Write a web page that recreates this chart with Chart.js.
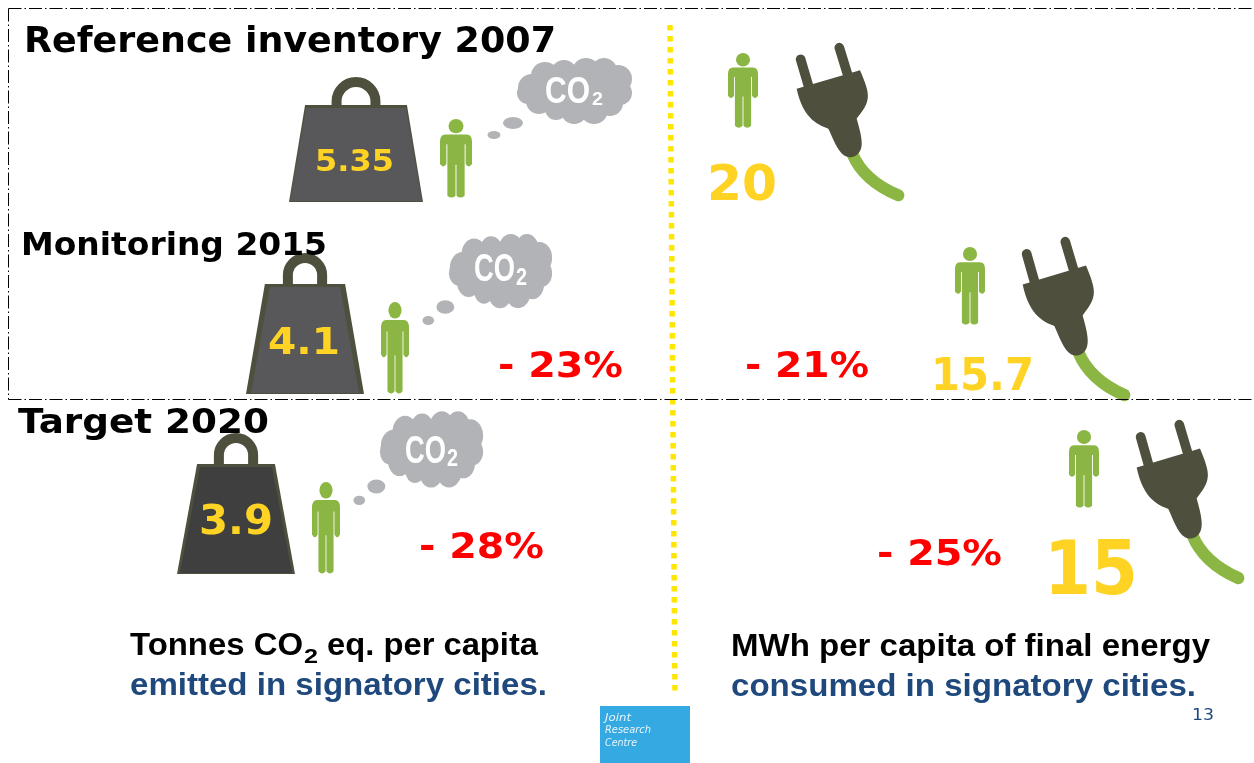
<!DOCTYPE html>
<html>
<head>
<meta charset="utf-8">
<title>Covenant of Mayors per capita figures</title>
<script src="https://cdn.jsdelivr.net/npm/chart.js@4/dist/chart.umd.min.js"></script>
<style>
html, body { margin: 0; padding: 0; background: #fff; overflow: hidden; }
canvas { display: block; }
</style>
</head>
<body>
<canvas id="chart" width="1254" height="763"></canvas>
<script>
// values
const periods = ['Reference inventory 2007', 'Monitoring 2015', 'Target 2020'];
const co2PerCapita = [5.35, 4.1, 3.9];
const energyPerCapita = [20, 15.7, 15];
const co2Change = [null, -23, -28];
const energyChange = [null, -21, -25];

const co2Caption = ['Tonnes CO', '2', ' eq. per capita', 'emitted in signatory cities.'];
const energyCaption = ['MWh per capita of final energy', 'consumed in signatory cities.'];
const logoLines = ['Joint', 'Research', 'Centre'];
const pageNumber = '13';

const YELLOW = '#ffd324';
const GREEN = '#8cb644';
const OLIVE = '#4e503d';
const GREY = '#b1b3b6';
const RED = '#ff0000';
const NAVY = '#1f497d';
const BOLD = '"DejaVu Sans", sans-serif';
const ARIAL = '"Liberation Sans", sans-serif';

// slide layout, boxes are left, top, width, height in slide pixels
const weightBoxes = [[289, 77, 134, 125], [246, 253, 118, 141], [177, 433, 118, 141]];
const weightFill = ['#58585a', '#58585a', '#3f3f3f'];
const weightInset = [0.12, 0.16, 0.17];
const weightEdge = [1, 5, 3];
const co2PersonBoxes = [[440, 119, 32, 79], [381, 302, 28, 92], [312, 482, 28, 92]];
const energyPersonBoxes = [[728, 53, 30, 75], [955, 247, 30, 78], [1069, 430, 30, 78]];
const cloudBoxes = [[487, 57, 146, 82], [422, 233, 131, 92], [353, 410, 131, 95]];
const plugBoxes = [[795, 42, 110, 160], [1021, 236, 110, 166], [1135, 419, 110, 166]];
const logoBox = [600, 706, 90, 57];

function sprite(w, h, draw) {
  const c = document.createElement('canvas');
  c.width = Math.round(w);
  c.height = Math.round(h);
  draw(c.getContext('2d'), c.width, c.height);
  return c;
}

function weightSprite(box, i) {
  return sprite(box[2], box[3], (ctx, w, h) => {
    const top = Math.round(h * 0.22);
    const inset = w * weightInset[i];
    const edge = weightEdge[i];
    const r = w * 0.145;
    ctx.strokeStyle = OLIVE;
    ctx.lineWidth = 10;
    ctx.beginPath();
    ctx.moveTo(w / 2 - r, top + 2);
    ctx.lineTo(w / 2 - r, 5 + r);
    ctx.arc(w / 2, 5 + r, r, Math.PI, 0);
    ctx.lineTo(w / 2 + r, top + 2);
    ctx.stroke();
    ctx.fillStyle = OLIVE;
    ctx.beginPath();
    ctx.moveTo(inset, top);
    ctx.lineTo(w - inset, top);
    ctx.lineTo(w, h);
    ctx.lineTo(0, h);
    ctx.closePath();
    ctx.fill();
    ctx.fillStyle = weightFill[i];
    ctx.beginPath();
    ctx.moveTo(inset + edge, top + 3);
    ctx.lineTo(w - inset - edge, top + 3);
    ctx.lineTo(w - edge, h - 1);
    ctx.lineTo(edge, h - 1);
    ctx.closePath();
    ctx.fill();
  });
}

function personSprite(box) {
  return sprite(box[2], box[3], (ctx, w, h) => {
    ctx.scale(w, h);
    ctx.fillStyle = GREEN;
    ctx.beginPath();
    ctx.ellipse(0.5, 0.09, 0.235, 0.09, 0, 0, Math.PI * 2);
    ctx.fill();
    ctx.beginPath();
    ctx.moveTo(0.16, 0.195);
    ctx.lineTo(0.84, 0.195);
    ctx.quadraticCurveTo(1, 0.2, 1, 0.28);
    ctx.lineTo(1, 0.57);
    ctx.quadraticCurveTo(0.9, 0.63, 0.8, 0.57);
    ctx.lineTo(0.8, 0.32);
    ctx.lineTo(0.77, 0.32);
    ctx.lineTo(0.77, 0.97);
    ctx.quadraticCurveTo(0.64, 1.02, 0.515, 0.97);
    ctx.lineTo(0.515, 0.58);
    ctx.lineTo(0.485, 0.58);
    ctx.lineTo(0.485, 0.97);
    ctx.quadraticCurveTo(0.36, 1.02, 0.23, 0.97);
    ctx.lineTo(0.23, 0.32);
    ctx.lineTo(0.2, 0.32);
    ctx.lineTo(0.2, 0.57);
    ctx.quadraticCurveTo(0.1, 0.63, 0, 0.57);
    ctx.lineTo(0, 0.28);
    ctx.quadraticCurveTo(0, 0.2, 0.16, 0.195);
    ctx.closePath();
    ctx.fill();
  });
}

function cloudSprite(box) {
  return sprite(box[2], box[3], (ctx, w, h) => {
    ctx.scale(w / 146, h / 82);
    ctx.fillStyle = GREY;
    const lobes = [[45, 31, 14], [58, 19, 14], [77, 16, 13], [99, 15, 14], [117, 14, 13], [131, 22, 14],
      [133, 36, 12], [123, 46, 13], [107, 53, 14], [87, 54, 13], [69, 52, 11], [52, 44, 13], [41, 36, 11]];
    ctx.beginPath();
    lobes.forEach((l, i) => (i ? ctx.lineTo(l[0], l[1]) : ctx.moveTo(l[0], l[1])));
    ctx.closePath();
    ctx.fill();
    lobes.forEach(l => {
      ctx.beginPath();
      ctx.arc(l[0], l[1], l[2], 0, Math.PI * 2);
      ctx.fill();
    });
    ctx.beginPath();
    ctx.ellipse(26, 66, 10, 6, 0, 0, Math.PI * 2);
    ctx.fill();
    ctx.beginPath();
    ctx.ellipse(7, 78, 6.5, 4, 0, 0, Math.PI * 2);
    ctx.fill();
  });
}

function plugSprite(box) {
  return sprite(box[2], box[3], (ctx, w, h) => {
    // drawn in the 3x units of the zoomed plug
    ctx.scale(w / 330, h / 480);
    ctx.lineCap = 'round';
    ctx.strokeStyle = GREEN;
    ctx.lineWidth = 36;
    ctx.beginPath();
    ctx.moveTo(172, 335);
    ctx.quadraticCurveTo(205, 415, 310, 460);
    ctx.stroke();
    ctx.strokeStyle = OLIVE;
    ctx.lineWidth = 29;
    ctx.beginPath();
    ctx.moveTo(17, 52);
    ctx.lineTo(40, 130);
    ctx.moveTo(133, 17);
    ctx.lineTo(157, 95);
    ctx.stroke();
    ctx.fillStyle = OLIVE;
    ctx.beginPath();
    ctx.moveTo(5, 140);
    ctx.lineTo(195, 85);
    ctx.bezierCurveTo(210, 120, 222, 150, 218, 170);
    ctx.bezierCurveTo(215, 195, 195, 215, 185, 230);
    ctx.bezierCurveTo(195, 265, 205, 300, 198, 320);
    ctx.bezierCurveTo(190, 345, 165, 350, 150, 342);
    ctx.bezierCurveTo(125, 325, 115, 290, 100, 260);
    ctx.bezierCurveTo(75, 250, 25, 235, 5, 140);
    ctx.closePath();
    ctx.fill();
  });
}

function logoSprite(box) {
  return sprite(box[2], box[3], (ctx, w, h) => {
    ctx.fillStyle = '#35a9e1';
    ctx.fillRect(0, 0, w, h);
  });
}

function boxCentre(box) {
  return { x: box[0] + box[2] / 2, y: box[1] + box[3] / 2 };
}

function iconDataset(label, boxes, images) {
  return {
    label: label,
    data: boxes.map(boxCentre),
    pointStyle: images,
    pointRadius: 10,
    showLine: false
  };
}

function lineDataset(label, points, color, width, dash) {
  return {
    label: label,
    data: points,
    showLine: true,
    borderColor: color,
    borderWidth: width,
    borderDash: dash,
    pointRadius: 0,
    tension: 0
  };
}

function pct(v) {
  return '- ' + Math.abs(v) + '%';
}

// text, left, baseline, width to fit, font, colour
const labels = [
  [periods[0], 24, 52, 532, 'bold 36px ' + BOLD, '#000'],
  [periods[1], 21, 255, 306, 'bold 32px ' + BOLD, '#000'],
  [periods[2], 18, 433, 251, 'bold 34px ' + BOLD, '#000'],

  [String(co2PerCapita[0]), 315, 171, 79, 'bold 31px ' + BOLD, YELLOW],
  [String(co2PerCapita[1]), 268, 354, 72, 'bold 38px ' + BOLD, YELLOW],
  [String(co2PerCapita[2]), 199, 534, 74, 'bold 40px ' + BOLD, YELLOW],

  [String(energyPerCapita[0]), 707, 200, 70, 'bold 50px ' + BOLD, YELLOW],
  [String(energyPerCapita[1]), 931, 390, 103, 'bold 44px ' + BOLD, YELLOW],
  [String(energyPerCapita[2]), 1044, 594, 94, 'bold 74px ' + BOLD, YELLOW],

  [pct(co2Change[1]), 498, 377, 125, 'bold 35px ' + BOLD, RED],
  [pct(co2Change[2]), 419, 558, 125, 'bold 35px ' + BOLD, RED],
  [pct(energyChange[1]), 745, 377, 124, 'bold 35px ' + BOLD, RED],
  [pct(energyChange[2]), 877, 565, 125, 'bold 35px ' + BOLD, RED],

  ['CO', 545, 103, 45, 'bold 36px ' + ARIAL, '#fff'],
  ['2', 592, 105, 11, 'bold 18px ' + ARIAL, '#fff'],
  ['CO', 474, 281, 41, 'bold 38px ' + ARIAL, '#fff'],
  ['2', 516, 285, 11, 'bold 23px ' + ARIAL, '#fff'],
  ['CO', 405, 463, 41, 'bold 38px ' + ARIAL, '#fff'],
  ['2', 447, 466, 11, 'bold 23px ' + ARIAL, '#fff'],

  [co2Caption[0], 130, 655, 173, 'bold 31px ' + ARIAL, '#000'],
  [co2Caption[1], 304, 663, 14, 'bold 21px ' + ARIAL, '#000'],
  [co2Caption[2], 318, 655, 220, 'bold 31px ' + ARIAL, '#000'],
  [co2Caption[3], 130, 695, 417, 'bold 31px ' + ARIAL, NAVY],
  [energyCaption[0], 731, 656, 479, 'bold 31px ' + ARIAL, '#000'],
  [energyCaption[1], 731, 696, 465, 'bold 31px ' + ARIAL, NAVY],

  [pageNumber, 1192, 720, 22, '16px ' + BOLD, NAVY],
  [logoLines[0], 605, 721, 26, 'italic 11px ' + BOLD, '#e8f4fb'],
  [logoLines[1], 605, 733, 46, 'italic 11px ' + BOLD, '#e8f4fb'],
  [logoLines[2], 605, 746, 32, 'italic 11px ' + BOLD, '#e8f4fb']
];

const slideText = {
  id: 'slideText',
  afterDatasetsDraw(chart) {
    const ctx = chart.ctx;
    const sx = chart.scales.x;
    const sy = chart.scales.y;
    labels.forEach(l => {
      ctx.save();
      ctx.font = l[4];
      ctx.fillStyle = l[5];
      ctx.textBaseline = 'alphabetic';
      ctx.translate(sx.getPixelForValue(l[1]), sy.getPixelForValue(l[2]));
      ctx.scale(l[3] / ctx.measureText(l[0]).width, 1);
      ctx.fillText(l[0], 0, 0);
      ctx.restore();
    });
  }
};

const frameDash = [13, 3, 1.5, 3];

new Chart(document.getElementById('chart'), {
  type: 'scatter',
  data: {
    datasets: [
      lineDataset('Inventory frame left', [{ x: 8.5, y: 8.5 }, { x: 8.5, y: 399.5 }], '#000', 1, frameDash),
      lineDataset('Inventory frame top', [{ x: 8.5, y: 8.5 }, { x: 1254, y: 8.5 }], '#000', 1, frameDash),
      lineDataset('Inventory frame bottom', [{ x: 8.5, y: 399.5 }, { x: 1254, y: 399.5 }], '#000', 1, frameDash),
      iconDataset('Plug', plugBoxes, plugBoxes.map(plugSprite)),
      iconDataset('Person, energy', energyPersonBoxes, energyPersonBoxes.map(personSprite)),
      iconDataset('Cloud', cloudBoxes, cloudBoxes.map(cloudSprite)),
      iconDataset('Person, CO2', co2PersonBoxes, co2PersonBoxes.map(personSprite)),
      iconDataset('Weight', weightBoxes, weightBoxes.map(weightSprite)),
      iconDataset('Logo', [logoBox], [logoSprite(logoBox)]),
      lineDataset('Divider', [{ x: 670, y: 25 }, { x: 675, y: 693 }], '#ffe600', 5.5, [5.5, 5.5])
    ]
  },
  options: {
    responsive: false,
    animation: false,
    layout: { padding: 0, autoPadding: false },
    plugins: { legend: { display: false }, tooltip: { enabled: false } },
    scales: {
      x: { type: 'linear', min: 0, max: 1254, display: false },
      y: { type: 'linear', min: 0, max: 763, reverse: true, display: false }
    }
  },
  plugins: [slideText]
});
</script>
</body>
</html>
